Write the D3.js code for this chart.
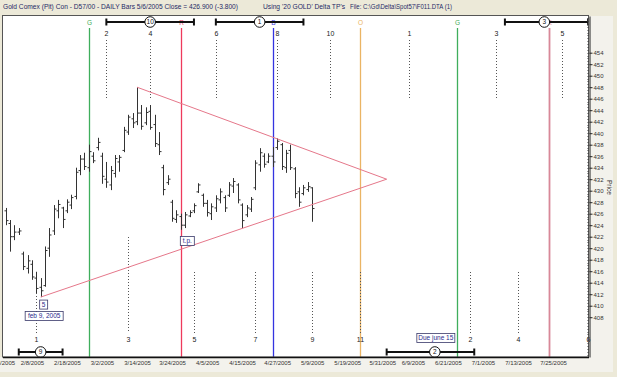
<!DOCTYPE html>
<html>
<head>
<meta charset="utf-8">
<script src="https://cdn.jsdelivr.net/npm/d3@7/dist/d3.min.js"></script>
<style>
  body { margin: 0; background: #ece9d8; }
  svg { display: block; font-family: 'Liberation Sans Narrow', 'Arial Narrow', 'Liberation Sans', Arial, sans-serif; }
  .bar { stroke: #333; stroke-width: 1; fill: none; }
  .dots { stroke: #555; stroke-width: 1; stroke-dasharray: 1,2; }
  .tpnum { font-size: 7px; fill: #222; text-anchor: middle; }
  .box rect { fill: #fff; stroke: #3a3a6a; stroke-width: 0.8; }
  .box text { font-size: 6.5px; fill: #2a2a8c; text-anchor: middle; }
  .axis text { font-size: 6px; fill: #333; }
  .axis line, .axis path { stroke: #222; }
</style>
</head>
<body>
<svg id="chart" width="617" height="377"></svg>
<script>
(function() {

    // daily bars, 1/28/2005 .. 5/6/2005 (one per weekday)
    var firstBar = "1/28/2005", lastBar = "5/6/2005";
    var barHigh = [427.0, 424.9, 424.0, 423.5, 419.4, 418.8, 417.9, 415.9, 414.8, 420.3,
                   423.5, 427.5, 428.4, 427.2, 428.5, 429.3, 434.0, 436.2, 436.6, 438.0,
                   436.7, 439.2, 436.6, 435.0, 434.3, 436.2, 436.2, 441.1, 443.2, 443.5,
                   448.0, 444.9, 444.5, 444.9, 443.2, 440.2, 434.5, 432.7, 428.4, 426.6,
                   426.0, 426.3, 426.6, 427.8, 431.3, 429.5, 428.4, 427.8, 429.2, 430.4,
                   429.2, 431.5, 432.2, 431.3, 427.8, 427.5, 428.9, 435.3, 437.4, 436.5,
                   436.5, 437.6, 439.1, 438.3, 437.1, 438.0, 434.1, 430.6, 431.0, 431.5,
                   430.6];
    var barLow = [424.0, 419.4, 421.4, 422.3, 416.2, 415.6, 414.5, 412.2, 411.5, 413.3,
                  418.5, 422.3, 425.2, 423.5, 426.1, 426.8, 428.5, 432.7, 433.6, 433.3,
                  434.8, 437.0, 431.2, 430.5, 430.1, 432.3, 433.3, 436.7, 439.7, 440.9,
                  441.4, 440.6, 441.4, 440.6, 437.6, 436.2, 429.2, 431.0, 424.6, 424.4,
                  423.2, 423.5, 425.4, 426.1, 429.6, 427.2, 425.5, 424.9, 426.3, 427.8,
                  426.3, 428.9, 429.6, 427.8, 423.5, 425.4, 426.3, 430.1, 433.3, 434.0,
                  434.8, 434.1, 437.1, 433.6, 433.1, 433.6, 428.7, 427.2, 429.2, 429.8,
                  424.6];
    var barOpen = [426.5, 424.3, 422.0, 422.8, 419.0, 416.5, 417.2, 414.8, 413.2, 413.5,
                   420.0, 423.0, 426.5, 427.0, 426.5, 427.5, 429.0, 433.5, 435.5, 434.0,
                   436.0, 437.5, 436.0, 432.0, 431.0, 433.0, 435.0, 437.0, 440.2, 442.5,
                   442.0, 443.5, 441.8, 443.8, 441.5, 438.0, 434.0, 431.4, 428.0, 425.0,
                   425.5, 424.0, 425.6, 426.5, 429.8, 429.2, 427.8, 426.0, 427.0, 428.4,
                   428.8, 429.2, 430.8, 431.0, 427.5, 425.8, 426.8, 430.5, 434.5, 436.0,
                   435.0, 436.0, 437.5, 438.0, 434.0, 437.0, 433.8, 429.8, 429.5, 430.2,
                   430.5];
    var barClose = [424.8, 422.0, 422.8, 423.0, 416.8, 417.8, 415.0, 413.0, 412.6, 419.6,
                    422.3, 426.8, 427.6, 425.0, 428.0, 428.8, 433.2, 435.5, 434.2, 436.8,
                    435.2, 438.4, 432.5, 431.5, 433.5, 435.6, 435.8, 440.5, 442.8, 441.8,
                    443.5, 441.2, 443.6, 441.0, 438.2, 436.8, 430.2, 432.0, 425.2, 425.8,
                    424.0, 425.8, 426.2, 427.4, 431.0, 427.8, 426.2, 427.2, 428.6, 429.8,
                    427.0, 431.0, 431.6, 428.4, 424.8, 427.0, 428.5, 434.8, 436.6, 434.6,
                    436.0, 435.0, 438.6, 434.2, 436.5, 434.0, 429.5, 428.0, 430.5, 430.7,
                    426.9];

    // date axis labels
    var tickDates = ["1/28/2005", "2/8/2005", "2/18/2005", "3/2/2005", "3/14/2005", "3/24/2005",
                     "4/5/2005", "4/15/2005", "4/27/2005", "5/9/2005", "5/19/2005", "5/31/2005",
                     "6/9/2005", "6/21/2005", "7/1/2005", "7/13/2005", "7/25/2005"];
    var priceTicks = d3.range(408, 455, 2);

    // turning point cycle lines
    var lineDates = ["2/24/2005", "3/25/2005", "4/25/2005", "5/23/2005", "6/22/2005", "7/21/2005"];
    var lineLetters = ["G", "R", "B", "O", "G", "R"];

    // numbered turning points, above and below the bars
    var topTpDates = ["3/2/2005", "3/16/2005", "4/6/2005", "4/26/2005", "5/12/2005", "6/7/2005", "7/5/2005", "7/26/2005"];
    var topTpLabels = ["2", "4", "6", "8", "10", "1", "3", "5"];
    var bottomTpDates = ["2/8/2005", "3/9/2005", "3/30/2005", "4/19/2005", "5/6/2005", "5/23/2005", "6/27/2005", "7/12/2005", "8/3/2005"];
    var bottomTpLabels = ["1", "3", "5", "7", "9", "11", "2", "4", "6"];

    // time bands with circled numbers
    var bandNums = ["10", "1", "3", "9", "2"];
    var bandFrom = ["3/2/2005", "4/6/2005", "7/7/2005", "2/2/2005", "5/31/2005"];
    var bandMid = ["3/16/2005", "4/20/2005", "7/20/2005", "2/9/2005", "6/15/2005"];
    var bandTo = ["3/30/2005", "5/4/2005", "8/3/2005", "2/16/2005", "6/28/2005"];
    var bandRow = ["top", "top", "top", "bottom", "bottom"];

    // triangle: two trend lines meeting at the apex
    var trendStart = [["2/9/2005", 411.5], ["3/11/2005", 448.0]];
    var trendApex = ["5/31/2005", 432.0];

    // ---------- helpers ----------
    var parse = d3.timeParse("%m/%d/%Y");
    var base = parse("2/8/2005");
    function isWeekday(d) { return d.getDay() !== 0 && d.getDay() !== 6; }
    // position of a date counted in weekdays from 2/8/2005
    function tradeIndex(s) {
        var d = parse(s);
        if (d >= base) return d3.timeDay.range(base, d).filter(isWeekday).length;
        return -d3.timeDay.range(d, base).filter(isWeekday).length;
    }

    var barDates = d3.timeDay.range(parse(firstBar), d3.timeDay.offset(parse(lastBar), 1)).filter(isWeekday);
    var bars = barDates.map(function(d, i) {
        return { i: tradeIndex(d3.timeFormat("%m/%d/%Y")(d)), o: barOpen[i], h: barHigh[i], l: barLow[i], c: barClose[i] };
    });

    var plot = { left: 3, right: 589, top: 16, bottom: 357 };

    var x = d3.scaleLinear().domain([-7.6, 126.2]).range([plot.left, plot.right]);
    var y = d3.scaleLinear().domain([401.08, 460.38]).range([plot.bottom, plot.top]);

    var svg = d3.select("#chart");

    // backgrounds
    svg.append("rect").attr("width", 617).attr("height", 377).attr("fill", "#ece9d8");
    svg.append("rect").attr("x", 589).attr("y", 16).attr("width", 24).attr("height", 356).attr("fill", "#f3f2ec");
    svg.append("rect").attr("x", 0).attr("y", 357).attr("width", 613).attr("height", 15).attr("fill", "#f3f2ec");
    svg.append("rect")
        .attr("x", plot.left).attr("y", plot.top)
        .attr("width", plot.right - plot.left).attr("height", plot.bottom - plot.top)
        .attr("fill", "#fff");

    // header
    var header = svg.append("g").attr("fill", "#1f2a66").style("font-size", "7px");
    header.append("text").attr("x", 3).attr("y", 9)
        .attr("textLength", 235).attr("lengthAdjust", "spacingAndGlyphs")
        .text("Gold Comex (Pit) Con - D57/00  - DAILY Bars  5/6/2005 Close = 426.900 (-3.800)");
    header.append("text").attr("x", 263).attr("y", 9)
        .attr("textLength", 82).attr("lengthAdjust", "spacingAndGlyphs")
        .text("Using '20 GOLD' Delta TP's");
    header.append("text").attr("x", 350).attr("y", 9)
        .attr("textLength", 102).attr("lengthAdjust", "spacingAndGlyphs")
        .text("File: C:\\Gd\\Delta\\Spot57\\F011.DTA (1)");

    svg.append("clipPath").attr("id", "clip")
        .append("rect")
        .attr("x", plot.left).attr("y", plot.top)
        .attr("width", plot.right - plot.left).attr("height", plot.bottom - plot.top);

    var g = svg.append("g").attr("clip-path", "url(#clip)");

    // cycle lines with letters
    var lineColors = ["#3fae5c", "#ee3a5c", "#3434e0", "#eab464", "#3fae5c", "#d88898"];
    var lineWidths = [1.3, 1.3, 1.3, 1.3, 1.3, 1.8];
    lineDates.forEach(function(d, k) {
        var xp = Math.round(x(tradeIndex(d))) + 0.5;
        g.append("line")
            .attr("x1", xp).attr("x2", xp)
            .attr("y1", 28).attr("y2", plot.bottom)
            .attr("stroke", lineColors[k]).attr("stroke-width", lineWidths[k]);
        g.append("text")
            .attr("x", xp).attr("y", 24.5)
            .attr("text-anchor", "middle")
            .style("font-size", "6.5px")
            .attr("fill", lineColors[k])
            .text(lineLetters[k]);
    });

    // dotted turning point markers
    topTpDates.forEach(function(d, k) {
        var xp = Math.round(x(tradeIndex(d))) + 0.5;
        g.append("line").attr("class", "dots")
            .attr("x1", xp).attr("x2", xp).attr("y1", 40).attr("y2", 98);
        g.append("text").attr("class", "tpnum")
            .attr("x", xp).attr("y", 36).text(topTpLabels[k]);
    });
    bottomTpDates.forEach(function(d, k) {
        var xp = Math.round(x(tradeIndex(d))) + 0.5;
        g.append("line").attr("class", "dots")
            .attr("x1", xp).attr("x2", xp).attr("y1", k === 1 ? 237 : 272).attr("y2", 333);
        svg.append("text").attr("class", "tpnum")
            .attr("x", xp).attr("y", 342).text(bottomTpLabels[k]);
    });

    // OHLC bars
    var barG = g.append("g").selectAll("g")
        .data(bars)
        .enter()
        .append("g")
        .attr("class", "bar")
        .attr("transform", function(d) { return "translate(" + (Math.round(x(d.i)) + 0.5) + ",0)"; });

    barG.append("line")
        .attr("y1", function(d) { return y(d.h); })
        .attr("y2", function(d) { return y(d.l); });
    barG.append("line")
        .attr("x1", -2).attr("x2", 0)
        .attr("y1", function(d) { return y(d.o); })
        .attr("y2", function(d) { return y(d.o); });
    barG.append("line")
        .attr("x1", 0).attr("x2", 2)
        .attr("y1", function(d) { return y(d.c); })
        .attr("y2", function(d) { return y(d.c); });

    // triangle
    trendStart.forEach(function(p) {
        g.append("line")
            .attr("x1", x(tradeIndex(p[0]))).attr("y1", y(p[1]))
            .attr("x2", x(tradeIndex(trendApex[0]))).attr("y2", y(trendApex[1]))
            .attr("stroke", "#e5778a").attr("stroke-width", 1);
    });

    // time bands
    bandNums.forEach(function(n, k) {
        var yb = bandRow[k] === "top" ? 22 : 352;
        var x1 = x(tradeIndex(bandFrom[k])), x2 = x(tradeIndex(bandTo[k])), xm = x(tradeIndex(bandMid[k]));
        var bg = svg.append("g");
        bg.append("line").attr("x1", x1).attr("x2", x2).attr("y1", yb).attr("y2", yb)
            .attr("stroke", "#111").attr("stroke-width", 2);
        [x1, x2].forEach(function(xc) {
            bg.append("line").attr("x1", xc).attr("x2", xc).attr("y1", yb - 3.5).attr("y2", yb + 3.5)
                .attr("stroke", "#111").attr("stroke-width", 2);
        });
        bg.append("circle").attr("cx", xm).attr("cy", yb).attr("r", 5.3)
            .attr("fill", "#fff").attr("stroke", "#111").attr("stroke-width", 1);
        bg.append("text").attr("x", xm).attr("y", yb + 2.3)
            .attr("text-anchor", "middle").style("font-size", "6.5px").attr("fill", "#111")
            .text(n);
    });

    // annotation boxes
    function box(cx, cy, w, label) {
        var b = svg.append("g").attr("class", "box");
        b.append("rect").attr("x", cx - w / 2).attr("y", cy - 4.5).attr("width", w).attr("height", 9);
        b.append("text").attr("x", cx).attr("y", cy + 2.2).text(label);
    }
    var lowX = x(tradeIndex("2/9/2005")), lowY = y(411.5);
    box(lowX + 3, lowY + 7.5, 8, "5");
    box(lowX + 3.5, lowY + 19, 38, "feb 9, 2005");
    var tpX = x(tradeIndex("3/25/2005"));
    box(tpX + 6.5, 241, 14, "t.p.");
    box(x(tradeIndex("6/15/2005")) + 1, 338, 38, "Due june 15");

    // plot frame
    svg.append("rect")
        .attr("x", plot.left - 0.5).attr("y", plot.top - 0.5)
        .attr("width", plot.right - plot.left).attr("height", plot.bottom - plot.top + 0.5)
        .attr("fill", "none").attr("stroke", "#555");
    svg.append("line").attr("x1", plot.left).attr("x2", plot.right)
        .attr("y1", plot.bottom + 0.5).attr("y2", plot.bottom + 0.5)
        .attr("stroke", "#111").attr("stroke-width", 1.5);

    // right price axis
    var minorTicks = d3.range(401.5, 460.5, 0.5);
    svg.append("g").selectAll("line")
        .data(minorTicks)
        .enter()
        .append("line")
        .attr("x1", plot.right - 1.5).attr("x2", plot.right)
        .attr("y1", function(d) { return Math.round(y(d)) + 0.5; })
        .attr("y2", function(d) { return Math.round(y(d)) + 0.5; })
        .attr("stroke", "#444");

    var yAxis = svg.append("g")
        .attr("class", "axis")
        .attr("transform", "translate(" + (plot.right + 0.5) + ",0)")
        .call(d3.axisRight(y).tickValues(priceTicks).tickSize(3).tickSizeOuter(0).tickPadding(1).tickFormat(d3.format("d")));
    yAxis.select(".domain").attr("stroke", "#111");

    svg.append("text")
        .attr("transform", "translate(607,180) rotate(90)")
        .style("font-size", "6.5px").attr("fill", "#333")
        .text("Price");

    // bottom date axis
    var xAxis = svg.append("g")
        .attr("class", "axis")
        .attr("transform", "translate(0," + plot.bottom + ")")
        .call(d3.axisBottom(x)
            .tickValues(tickDates.map(tradeIndex))
            .tickSize(0).tickPadding(4)
            .tickFormat(function(d, i) { return tickDates[i]; }));
    xAxis.select(".domain").remove();
    xAxis.selectAll("text").attr("dx", -4.4);

})();
</script>
</body>
</html>
